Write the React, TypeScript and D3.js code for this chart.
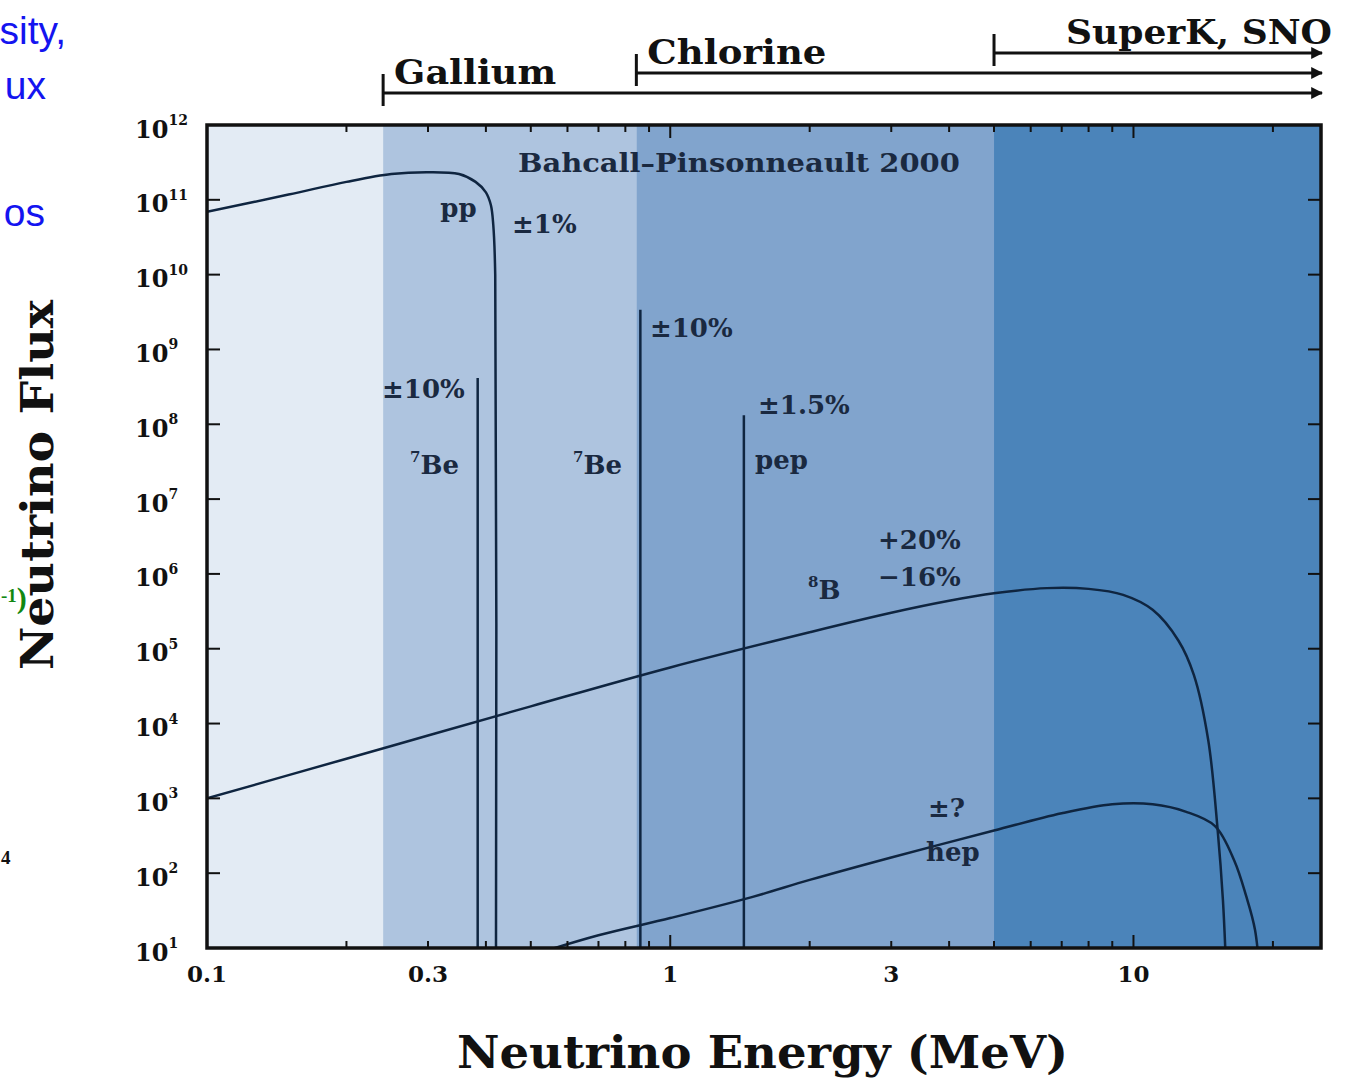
import React from "react";
import * as d3 from "d3";

// ---------------- data ----------------
// energy edges of detector-sensitivity regions (MeV)
const bandEdges = [0.1, 0.24, 0.845, 5.0, 25.4];
const bandColors = ["#e3ebf4", "#aec4df", "#81a4cd", "#4b84ba"];

const detectorNames = ["Gallium", "Chlorine", "SuperK, SNO"];
const detectorThresholds = [0.24, 0.845, 5.0];

// continuum spectra: energy (MeV) and log10 flux
const ppEnergy = [0.1, 0.15, 0.2, 0.25, 0.3, 0.35, 0.38, 0.4, 0.41, 0.415, 0.419, 0.4205];
const ppLogFlux = [10.84, 11.07, 11.24, 11.345, 11.37, 11.345, 11.24, 11.1, 10.93, 10.66, 10.0, 0.5];

const b8Energy = [0.1, 0.2, 0.3, 0.5, 1, 2, 3, 4, 5, 6.5, 8, 9.5, 11, 12.5, 13.5, 14.5, 15.2, 15.6, 15.9];
const b8LogFlux = [3.0, 3.53, 3.84, 4.23, 4.75, 5.22, 5.48, 5.64, 5.74, 5.81, 5.8, 5.72, 5.52, 5.11, 4.65, 3.78, 2.57, 1.64, 0.5];

const hepEnergy = [0.5, 0.7, 1, 1.5, 2, 3, 5, 7, 9, 11, 13, 15, 16.5, 17.5, 18.3, 18.8];
const hepLogFlux = [0.9, 1.17, 1.4, 1.68, 1.91, 2.21, 2.57, 2.8, 2.92, 2.92, 2.82, 2.63, 2.17, 1.7, 1.24, 0.5];

// line spectra
const lineEnergy = [0.384, 0.862, 1.442];
const lineLogFlux = [8.62, 9.53, 8.12];

// annotations: text, energy (left edge), log10 flux (center)
const annText = ["Bahcall\u2013Pinsonneault 2000", "pp", "\u00b11%", "\u00b110%", "7|Be", "7|Be", "\u00b110%", "\u00b11.5%", "pep", "+20%", "\u221216%", "8|B", "\u00b1?", "hep"];
const annEnergy = [0.469, 0.319, 0.4555, 0.2387, 0.2744, 0.617, 0.904, 1.547, 1.524, 2.809, 2.809, 1.984, 3.602, 3.567];
const annLogFlux = [11.49, 10.89, 10.68, 8.47, 7.46, 7.46, 9.29, 8.26, 7.52, 6.45, 5.96, 5.785, 2.87, 2.28];

const xTickValues = [0.1, 0.3, 1, 3, 10];
const xTickLabels = ["0.1", "0.3", "1", "3", "10"];
const yTickExponents = [1, 2, 3, 4, 5, 6, 7, 8, 9, 10, 11, 12];

// ---------------- layout ----------------
const W = 1345;
const H = 1078;
const L = 207, R = 1321, T = 125, B = 948;

const serif = "'DejaVu Serif', serif";
const ink = "#1a2940";
const curveColor = "#0f2540";

export default function App() {
  const x = d3.scaleLog().domain([0.1, 25.4]).range([L, R]);
  const y = d3.scaleLog().domain([10, 1e12]).range([B, T]);

  const line = d3
    .line<[number, number]>()
    .x((d) => x(d[0]))
    .y((d) => y(Math.pow(10, d[1])))
    .curve(d3.curveCatmullRom.alpha(0.5));

  const ppPath = line(ppEnergy.map((e, i) => [e, ppLogFlux[i]]));
  const b8Path = line(b8Energy.map((e, i) => [e, b8LogFlux[i]]));
  const hepPath = line(hepEnergy.map((e, i) => [e, hepLogFlux[i]]));

  const yTicks = y.ticks();
  const xTicks = x.ticks();
  const isPow10 = (v: number) => Math.abs(Math.log10(v) - Math.round(Math.log10(v))) < 1e-6;

  const lineYs = [93, 73, 53];

  return (
    <svg width={W} height={H} style={{ position: "absolute", left: 0, top: 0, background: "#fff" }}>
      <defs>
        <clipPath id="plot">
          <rect x={L} y={T} width={R - L} height={B - T} />
        </clipPath>
        <marker id="arr" viewBox="0 0 10 10" refX="9" refY="5" markerWidth="4" markerHeight="4" orient="auto">
          <path d="M0,0 L10,5 L0,10 z" fill="#111" />
        </marker>
      </defs>

      {/* cut-off slide text on the left */}
      <g fontFamily="'Liberation Sans', Arial, sans-serif" fill="#1414f0" fontSize={39}>
        <text x={66} y={44} textAnchor="end">sity,</text>
        <text x={46} y={99} textAnchor="end">ux</text>
        <text x={45} y={226} textAnchor="end">os</text>
      </g>
      <text x={1} y={608} fontFamily="'Liberation Serif', serif" fontWeight="bold" fill="#118811" fontSize={30}>
        <tspan fontSize={19} dy={-6}>-1</tspan>
        <tspan dy={6}>)</tspan>
      </text>
      <text x={1} y={864} fontFamily="'Liberation Serif', serif" fontWeight="bold" fill="#111" fontSize={19}>
        4
      </text>

      {/* bands */}
      {bandColors.map((c, i) => (
        <rect key={i} x={x(bandEdges[i])} y={T} width={x(bandEdges[i + 1]) - x(bandEdges[i])} height={B - T} fill={c} />
      ))}

      {/* curves */}
      <g clipPath="url(#plot)" fill="none" stroke={curveColor} strokeWidth={2.5}>
        <path d={ppPath || ""} />
        <path d={b8Path || ""} />
        <path d={hepPath || ""} />
        {lineEnergy.map((e, i) => (
          <line key={i} x1={x(e)} x2={x(e)} y1={y(Math.pow(10, lineLogFlux[i]))} y2={B} />
        ))}
      </g>

      {/* annotations */}
      <g fontFamily={serif} fontWeight="bold" fill={ink} fontSize={26}>
        {annText.map((t, i) => {
          const px = x(annEnergy[i]);
          const py = y(Math.pow(10, annLogFlux[i]));
          if (t.includes("|")) {
            const [sup, base] = t.split("|");
            return (
              <text key={i} x={px} y={py} dominantBaseline="central">
                <tspan fontSize={15} dy={-8}>{sup}</tspan>
                <tspan dy={8}>{base}</tspan>
              </text>
            );
          }
          return (
            <text key={i} x={px} y={py} dominantBaseline="central" textLength={i === 0 ? 442 : undefined} lengthAdjust="spacingAndGlyphs">
              {t}
            </text>
          );
        })}
      </g>

      {/* ticks */}
      <g stroke="#111" strokeWidth={2}>
        {yTicks.map((v, i) => {
          const major = isPow10(v);
          const len = major ? 13 : 7;
          return (
            <g key={i}>
              <line x1={L} x2={L + len} y1={y(v)} y2={y(v)} />
              <line x1={R} x2={R - len} y1={y(v)} y2={y(v)} />
            </g>
          );
        })}
        {xTicks.map((v, i) => {
          const major = isPow10(v);
          const len = major ? 13 : 7;
          return (
            <g key={i}>
              <line x1={x(v)} x2={x(v)} y1={B} y2={B - len} />
              <line x1={x(v)} x2={x(v)} y1={T} y2={T + len} />
            </g>
          );
        })}
      </g>

      {/* frame */}
      <rect x={L} y={T} width={R - L} height={B - T} fill="none" stroke="#111" strokeWidth={3.5} />

      {/* y tick labels */}
      <g fontFamily={serif} fontWeight="bold" fill="#111">
        {yTickExponents.map((p) => (
          <text key={p} x={135} y={y(Math.pow(10, p)) + 4} dominantBaseline="central" fontSize={24}>
            10
            <tspan fontSize={14} dy={-9}>{p}</tspan>
          </text>
        ))}
      </g>

      {/* x tick labels */}
      <g fontFamily={serif} fontWeight="bold" fill="#111" fontSize={23} textAnchor="middle">
        {xTickValues.map((v, i) => (
          <text key={i} x={x(v)} y={973} dominantBaseline="central">
            {xTickLabels[i]}
          </text>
        ))}
      </g>

      {/* detector thresholds */}
      <g stroke="#111" strokeWidth={3} fill="none">
        {detectorThresholds.map((t, i) => (
          <g key={i}>
            <line x1={x(t)} x2={x(t)} y1={lineYs[i] - 19} y2={lineYs[i] + 13} />
            <line x1={x(t)} x2={R + 1} y1={lineYs[i]} y2={lineYs[i]} markerEnd="url(#arr)" />
          </g>
        ))}
      </g>
      <g fontFamily={serif} fontWeight="bold" fill="#111" fontSize={34}>
        {detectorNames.map((n, i) => (
          <text
            key={i}
            x={i === 2 ? 1066 : x(detectorThresholds[i]) + 11}
            y={lineYs[i] - 9}
            textLength={i === 0 ? 162 : i === 1 ? 179 : 266}
            lengthAdjust="spacingAndGlyphs"
          >
            {n}
          </text>
        ))}
      </g>

      {/* axis titles */}
      <text x={457} y={1068} fontFamily={serif} fontWeight="bold" fill="#111" fontSize={44} textLength={611} lengthAdjust="spacingAndGlyphs">
        Neutrino Energy (MeV)
      </text>
      <text
        transform="translate(53,670) rotate(-90)"
        fontFamily={serif}
        fontWeight="bold"
        fill="#111"
        fontSize={44}
        textLength={370}
        lengthAdjust="spacingAndGlyphs"
      >
        Neutrino Flux
      </text>
    </svg>
  );
}
